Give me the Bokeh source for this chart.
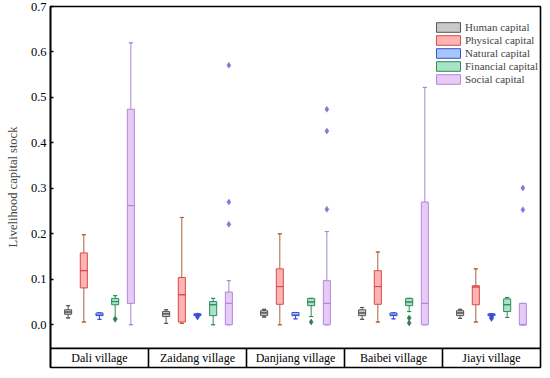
from bokeh.plotting import figure
from bokeh.models import (ColumnDataSource, FactorRange, Range1d, FixedTicker,
                          PrintfTickFormatter, Span, Legend, LegendItem)
from bokeh.transform import dodge
from bokeh.core.properties import value
from bokeh.embed import file_html
from bokeh.resources import INLINE

villages = ["Dali village", "Zaidang village", "Danjiang village", "Baibei village", "Jiayi village"]
capitals = ["Human capital", "Physical capital", "Natural capital", "Financial capital", "Social capital"]

# box statistics per capital, in village order
human_q1 = [0.023, 0.018, 0.020, 0.020, 0.020]
human_med = [0.028, 0.024, 0.026, 0.026, 0.026]
human_q3 = [0.033, 0.029, 0.031, 0.033, 0.031]
human_lo = [0.015, 0.003, 0.017, 0.012, 0.014]
human_hi = [0.042, 0.033, 0.034, 0.038, 0.034]

physical_q1 = [0.081, 0.006, 0.045, 0.045, 0.044]
physical_med = [0.119, 0.066, 0.084, 0.084, 0.083]
physical_q3 = [0.158, 0.104, 0.123, 0.119, 0.086]
physical_lo = [0.006, 0.003, 0.000, 0.006, 0.006]
physical_hi = [0.198, 0.236, 0.200, 0.160, 0.123]

natural_q1 = [0.020, 0.020, 0.020, 0.020, 0.020]
natural_med = [0.021, 0.022, 0.021, 0.021, 0.022]
natural_q3 = [0.026, 0.024, 0.027, 0.026, 0.024]
natural_lo = [0.012, 0.020, 0.013, 0.013, 0.020]
natural_hi = [0.026, 0.024, 0.027, 0.026, 0.024]

financial_q1 = [0.044, 0.020, 0.042, 0.042, 0.029]
financial_med = [0.051, 0.044, 0.050, 0.050, 0.044]
financial_q3 = [0.058, 0.051, 0.058, 0.058, 0.057]
financial_lo = [0.014, 0.000, 0.018, 0.029, 0.016]
financial_hi = [0.064, 0.058, 0.058, 0.058, 0.060]

social_q1 = [0.047, 0.000, 0.000, 0.000, 0.000]
social_med = [0.262, 0.047, 0.047, 0.047, 0.000]
social_q3 = [0.474, 0.072, 0.097, 0.270, 0.047]
social_lo = [0.000, 0.000, 0.000, 0.000, 0.000]
social_hi = [0.620, 0.097, 0.205, 0.522, 0.047]

# outliers: (village, value)
natural_out_v = ["Zaidang village", "Zaidang village", "Jiayi village", "Jiayi village", "Jiayi village"]
natural_out_y = [0.017, 0.020, 0.014, 0.016, 0.019]
financial_out_v = ["Dali village", "Danjiang village", "Baibei village", "Baibei village"]
financial_out_y = [0.012, 0.006, 0.015, 0.004]
social_out_v = ["Zaidang village", "Zaidang village", "Zaidang village",
                "Danjiang village", "Danjiang village", "Danjiang village",
                "Jiayi village", "Jiayi village"]
social_out_y = [0.571, 0.270, 0.221, 0.474, 0.426, 0.254, 0.301, 0.253]

y_ticks = [0.0, 0.1, 0.2, 0.3, 0.4, 0.5, 0.6, 0.7]

stats = [
    (human_q1, human_med, human_q3, human_lo, human_hi),
    (physical_q1, physical_med, physical_q3, physical_lo, physical_hi),
    (natural_q1, natural_med, natural_q3, natural_lo, natural_hi),
    (financial_q1, financial_med, financial_q3, financial_lo, financial_hi),
    (social_q1, social_med, social_q3, social_lo, social_hi),
]
fills = ["#c9c9c9", "#ffb3b3", "#a9c6fa", "#a8e3c6", "#e8cbf5"]
lines = ["#555555", "#d44c4c", "#3a52d6", "#2e8a5c", "#b287e0"]
whisk = ["#555555", "#a8643e", "#3a52d6", "#2e8a5c", "#a886dc"]
outc = ["#555555", "#a8643e", "#3a4fd8", "#2e7d52", "#8a72d8"]
offsets = [-0.32, -0.16, 0.0, 0.16, 0.32]

FONT = "Liberation Serif"
y_bottom = -0.094
y_table = -0.052

p = figure(x_range=FactorRange(factors=villages, range_padding=0),
           y_range=Range1d(y_bottom, 0.7),
           frame_width=490, frame_height=361,
           min_border_left=50, min_border_right=2, min_border_top=6, min_border_bottom=2,
           output_backend="svg", toolbar_location=None)

p.xgrid.visible = False
p.ygrid.visible = False
p.xaxis.visible = False
p.outline_line_color = "black"
p.outline_line_width = 1.6

ya = p.yaxis[0]
ya.ticker = FixedTicker(ticks=y_ticks)
ya.formatter = PrintfTickFormatter(format="%.1f")
ya.major_tick_in = 3
ya.major_tick_out = 0
ya.minor_tick_line_color = None
ya.axis_line_width = 1.6
ya.major_tick_line_width = 1.4
ya.major_label_text_font = FONT
ya.major_label_text_font_size = "12.5px"
ya.major_label_text_color = "black"
ya.major_label_standoff = 4
ya.axis_label = "Livelihood capital stock"
ya.axis_label_text_font = FONT
ya.axis_label_text_font_size = "12.5px"
ya.axis_label_text_font_style = "normal"
ya.axis_label_standoff = 8

box_w = 0.072
cap_w = 0.04
legend_items = []
for k, (q1, med, q3, lo, hi) in enumerate(stats):
    src = ColumnDataSource(dict(v=villages, q1=q1, med=med, q3=q3, lo=lo, hi=hi))
    xd = dodge("v", offsets[k], range=p.x_range)
    p.segment(x0=xd, y0="q3", x1=xd, y1="hi", source=src, line_color=whisk[k], line_width=1)
    p.segment(x0=xd, y0="lo", x1=xd, y1="q1", source=src, line_color=whisk[k], line_width=1)
    p.rect(x=xd, y="hi", width=cap_w, height=0.0001, source=src, line_color=whisk[k], fill_color=None, line_width=1)
    p.rect(x=xd, y="lo", width=cap_w, height=0.0001, source=src, line_color=whisk[k], fill_color=None, line_width=1)
    r = p.vbar(x=xd, bottom="q1", top="q3", width=box_w, source=src,
               fill_color=fills[k], line_color=lines[k], line_width=1)
    p.rect(x=xd, y="med", width=box_w, height=0.0001, source=src, line_color=lines[k], fill_color=None, line_width=1)
    legend_items.append(LegendItem(label=capitals[k], renderers=[r]))

for k, vs, ys in [(2, natural_out_v, natural_out_y), (3, financial_out_v, financial_out_y),
                  (4, social_out_v, social_out_y)]:
    src = ColumnDataSource(dict(v=vs, y=ys))
    p.scatter(x=dodge("v", offsets[k], range=p.x_range), y="y", source=src, marker="diamond",
              size=6, fill_color=outc[k], line_color=outc[k], line_width=0.5)

# category table at the bottom
p.add_layout(Span(location=y_table, dimension="width", line_color="black", line_width=1.6))
sep_src = ColumnDataSource(dict(v=villages[:-1]))
sx = dodge("v", 0.5, range=p.x_range)
p.segment(x0=sx, y0=y_bottom, x1=sx, y1=y_table, source=sep_src, line_color="black", line_width=1.6)
lab_src = ColumnDataSource(dict(v=villages, y=[(y_bottom + y_table) / 2] * len(villages)))
p.text(x="v", y="y", text="v", source=lab_src, text_font=value(FONT), text_font_size="12px",
       text_align="center", text_baseline="middle", text_color="black")

legend = Legend(items=legend_items, location=(383, 282), border_line_color=None,
                background_fill_alpha=0, glyph_width=30, glyph_height=12, label_height=12,
                spacing=1, padding=0, margin=0, label_standoff=2,
                label_text_font=FONT, label_text_font_size="11px")
p.add_layout(legend)

open("out.html", "w").write(file_html(p, INLINE))
